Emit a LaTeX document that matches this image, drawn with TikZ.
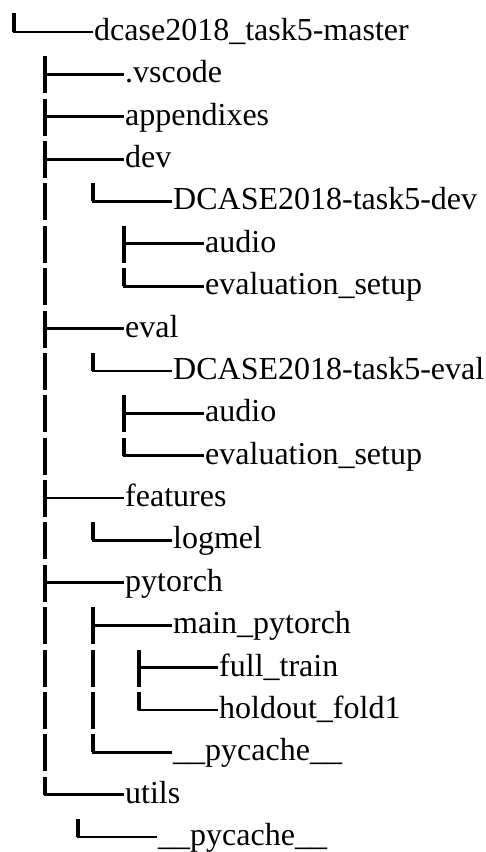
\documentclass[tikz,border=0pt]{standalone}
\usepackage{fontspec}
\setmainfont{Liberation Serif}
\usepackage{tikz}
\usetikzlibrary{calc}

\tikzset{
    dirname/.style={anchor=west,inner sep=0pt,text height=23pt,text depth=6pt,font=\fontsize{32}{38}\selectfont},
    branch/.style={line width=2.8pt,line cap=rect,shorten >=2pt},
    bar/.style={line width=3.4pt,dash pattern=on 37pt off 5.37pt}
}

\begin{document}
\begin{tikzpicture}[x=1pt,y=-1pt]
    \useasboundingbox (0,0) rectangle (486,852);

    % entries, one per line
    \node[dirname] (root) at (94,32) {dcase2018\_task5-master};
    \node[dirname] (vscode) at (125,74.37) {.vscode};
    \node[dirname] (appendixes) at (125,116.74) {appendixes};
    \node[dirname] (dev) at (125,159.11) {dev};
    \node[dirname] (dcasedev) at (173,201.48) {DCASE2018-task5-dev};
    \node[dirname] (devaudio) at (205,243.85) {audio};
    \node[dirname] (devsetup) at (205,286.22) {evaluation\_setup};
    \node[dirname] (eval) at (125,328.59) {eval};
    \node[dirname] (dcaseeval) at (173,370.96) {DCASE2018-task5-eval};
    \node[dirname] (evalaudio) at (205,413.33) {audio};
    \node[dirname] (evalsetup) at (205,455.70) {evaluation\_setup};
    \node[dirname] (features) at (125,498.07) {features};
    \node[dirname] (logmel) at (173,540.44) {logmel};
    \node[dirname] (pytorch) at (125,582.81) {pytorch};
    \node[dirname] (mainpytorch) at (173,625.18) {main\_pytorch};
    \node[dirname] (fulltrain) at (219,667.55) {full\_train};
    \node[dirname] (holdout) at (219,709.92) {holdout\_fold1};
    \node[dirname] (torchcache) at (173,752.29) {\_\_pycache\_\_};
    \node[dirname] (utils) at (125,794.66) {utils};
    \node[dirname] (utilscache) at (158,837.03) {\_\_pycache\_\_};

    % columns of the tree
    \coordinate (top) at (14,13);
    \coordinate (trunk) at (45,56.37);
    \coordinate (devcol) at (93,183.48);
    \coordinate (dcdevcol) at (124,225.85);
    \coordinate (evalcol) at (93,352.96);
    \coordinate (dcevalcol) at (124,395.33);
    \coordinate (featcol) at (93,522.44);
    \coordinate (torchcol) at (93,607.18);
    \coordinate (maincol) at (139,649.55);
    \coordinate (utilscol) at (78,819.03);

    \draw[bar] (top) -- (top |- root.west);
    \draw[branch] (top |- root.west) -- (root.west);

    \draw[bar] (trunk) -- (trunk |- utils.west);
    \foreach \n in {vscode,appendixes,dev,eval,features,pytorch,utils}
        \draw[branch] (trunk |- \n.west) -- (\n.west);

    \draw[bar] (devcol) -- (devcol |- dcasedev.west);
    \draw[branch] (devcol |- dcasedev.west) -- (dcasedev.west);
    \draw[bar] (dcdevcol) -- (dcdevcol |- devsetup.west);
    \foreach \n in {devaudio,devsetup}
        \draw[branch] (dcdevcol |- \n.west) -- (\n.west);

    \draw[bar] (evalcol) -- (evalcol |- dcaseeval.west);
    \draw[branch] (evalcol |- dcaseeval.west) -- (dcaseeval.west);
    \draw[bar] (dcevalcol) -- (dcevalcol |- evalsetup.west);
    \foreach \n in {evalaudio,evalsetup}
        \draw[branch] (dcevalcol |- \n.west) -- (\n.west);

    \draw[bar] (featcol) -- (featcol |- logmel.west);
    \draw[branch] (featcol |- logmel.west) -- (logmel.west);

    \draw[bar] (torchcol) -- (torchcol |- torchcache.west);
    \foreach \n in {mainpytorch,torchcache}
        \draw[branch] (torchcol |- \n.west) -- (\n.west);
    \draw[bar] (maincol) -- (maincol |- holdout.west);
    \foreach \n in {fulltrain,holdout}
        \draw[branch] (maincol |- \n.west) -- (\n.west);

    \draw[bar] (utilscol) -- (utilscol |- utilscache.west);
    \draw[branch] (utilscol |- utilscache.west) -- (utilscache.west);
\end{tikzpicture}
\end{document}
